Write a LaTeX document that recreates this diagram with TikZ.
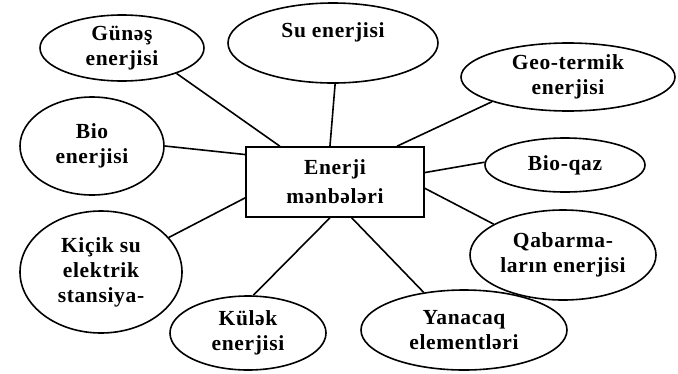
\documentclass[tikz,border=0pt]{standalone}
\usepackage{fontspec}
\setmainfont[LetterSpace=3]{Liberation Serif}
\usetikzlibrary{shapes.geometric}

\tikzset{
    source/.style={ellipse, draw, line width=1.6pt, inner sep=0pt, align=center,
        font=\fontsize{21.5}{25}\selectfont\bfseries},
    hub/.style={rectangle, draw, line width=1.6pt, inner sep=0pt, align=center,
        minimum width=178pt, minimum height=70pt,
        font=\fontsize{21.5}{29}\selectfont\bfseries},
    link/.style={line width=1.6pt}
}

\begin{document}
\begin{tikzpicture}[x=1pt, y=-1pt]

        % frame of the picture
        \useasboundingbox (0,0) rectangle (678,373);

        % centre box
        \node[hub] (box) at (335,182) {Enerji\\mənbələri};

        % energy sources round it
        \node[source, minimum width=164pt, minimum height=66pt] (gunes) at (122,48) {Günəş\\enerjisi};
        \node[source, minimum width=210pt, minimum height=80pt] (su) at (333,43) {Su enerjisi\\\mbox{}};
        \node[source, minimum width=214pt, minimum height=68pt] (geo) at (568,77) {Geo-termik\\enerjisi};
        \node[source, minimum width=160pt, minimum height=54pt] (bioqaz) at (565,165) {Bio-qaz};
        \node[source, minimum width=144pt, minimum height=98pt] (bio) at (92,146) {Bio\\enerjisi};
        \node[source, minimum width=162pt, minimum height=122pt] (kicik) at (101,272) {Kiçik su\\elektrik\\stansiya-};
        \node[source, minimum width=156pt, minimum height=74pt] (kulek) at (248,333) {Külək\\enerjisi};
        \node[source, minimum width=186pt, minimum height=90pt] (qabarma) at (563,255) {Qabarma-\\ların enerjisi};
        \node[source, minimum width=206pt, minimum height=80pt] (yanacaq) at (464,330) {Yanacaq\\elementləri};

        % connectors: node / angle on box / angle on ellipse
        \foreach \n/\a/\b in {gunes/147/-25, su/98/-87, geo/30/198, bioqaz/6/178,
                qabarma/-4/156, yanacaq/-65/137, kulek/-98/82, kicik/190/27, bio/163/0} {
            \draw[link] (box.\a) -- (\n.\b);
        }

\end{tikzpicture}
\end{document}
